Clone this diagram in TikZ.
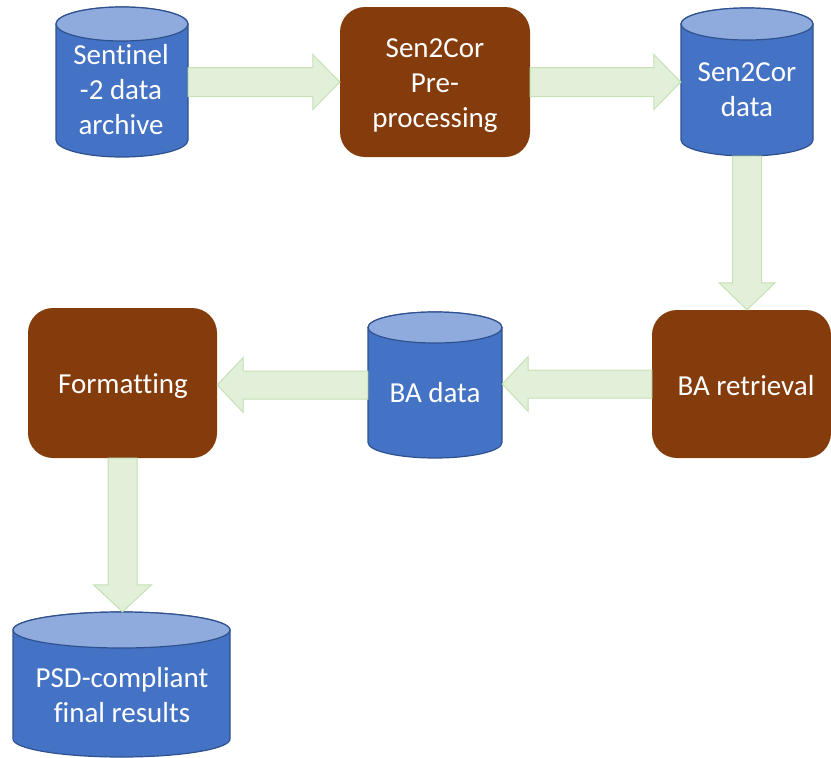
\documentclass[tikz,border=0pt]{standalone}
\usepackage{fontspec}
\setmainfont{Carlito}[Ligatures=NoCommon]
\usetikzlibrary{calc}
\definecolor{cylbody}{HTML}{4472C4}
\definecolor{cyltop}{HTML}{8FAADC}
\definecolor{cylline}{HTML}{2F528F}
\definecolor{boxbrown}{HTML}{843C0C}
\definecolor{arrfill}{HTML}{E2F0D9}
\definecolor{arrline}{HTML}{C5E0B4}
\tikzset{
  cylbodystyle/.style={fill=cylbody,draw=cylline,line width=1.2pt},
  cyltopstyle/.style={fill=cyltop,draw=cylline,line width=1.2pt},
  procbox/.style={fill=boxbrown,draw=none,rounded corners=25pt,inner sep=0pt},
  lbl/.style={text=white,font=\fontsize{29}{35}\selectfont,align=center,inner sep=0pt},
  blockarrow/.style={fill=arrfill,draw=arrline,line width=1pt,line join=miter}
}
\newcommand\dbcyl[6]{%
  \pgfmathsetmacro\cylcx{(#2+#3)/2}%
  \pgfmathsetmacro\cylrx{(#3-#2)/2}%
  \pgfmathsetmacro\cylyt{-(#4+#6)}%
  \pgfmathsetmacro\cylyb{-(#5-#6)}%
  \pgfmathsetmacro\cylcy{-(#4+#5)/2}%
  \pgfmathsetmacro\cylw{#3-#2}%
  \pgfmathsetmacro\cylh{#5-#4}%
  \filldraw[cylbodystyle] (#2,\cylyt) -- (#2,\cylyb)
     arc[start angle=180,end angle=360,x radius=\cylrx,y radius=#6]
     -- (#3,\cylyt)
     arc[start angle=0,end angle=180,x radius=\cylrx,y radius=#6] -- cycle;
  \filldraw[cyltopstyle] (\cylcx,\cylyt) ellipse[x radius=\cylrx,y radius=#6];
  \node[inner sep=0pt,minimum width=\cylw pt,minimum height=\cylh pt] (#1) at (\cylcx,\cylcy) {};
}
\begin{document}
\begin{tikzpicture}[x=1pt,y=1pt]
\useasboundingbox (0,0) rectangle (831,-758);

% data stores
\dbcyl{archive}{56}{188}{7}{157}{17}
\dbcyl{s2cdata}{681}{813}{8}{156}{16}
\dbcyl{badata}{368}{502}{312}{458}{15.5}
\dbcyl{final}{13}{230}{612}{757}{18}

% processes
\node[procbox,minimum width=190pt,minimum height=150pt] (prep) at (435,-82) {};
\node[procbox,minimum width=179pt,minimum height=148pt] (retr) at (741.5,-384) {};
\node[procbox,minimum width=189pt,minimum height=150pt] (fmt) at (122.5,-383) {};

% labels
\node[lbl] (tarchive) at (121,-90) {Sentinel\\-2 data\\archive};
\node[lbl] (tprep) at (435,-86) {Sen2Cor\\Pre-\\processing};
\node[lbl] (ts2c) at (747,-90) {Sen2Cor\\data};
\node[lbl,anchor=base] (tretr) at (746,-395) {BA retrieval};
\node[lbl,anchor=base] (tbadata) at (435,-402) {BA data};
\node[lbl,anchor=base] (tfmt) at (123,-393) {Formatting};
\node[lbl] (tfinal) at (122,-695) {PSD-compliant\\final results};

% connectors (block arrows)
\path[blockarrow] let \p1=(archive.east), \p2=(prep.west) in
  (\x1,\y1+14.5pt) -- (\x2-27pt,\y1+14.5pt) -- (\x2-27pt,\y1+27.5pt) -- (\x2,\y1)
  -- (\x2-27pt,\y1-27.5pt) -- (\x2-27pt,\y1-14.5pt) -- (\x1,\y1-14.5pt) -- cycle;
\path[blockarrow] let \p1=(prep.east), \p2=(s2cdata.west) in
  (\x1,\y1+14.5pt) -- (\x2-27pt,\y1+14.5pt) -- (\x2-27pt,\y1+27.5pt) -- (\x2,\y1)
  -- (\x2-27pt,\y1-27.5pt) -- (\x2-27pt,\y1-14.5pt) -- (\x1,\y1-14.5pt) -- cycle;
\path[blockarrow] let \p1=(s2cdata.south), \p2=(retr.north) in
  (\x1-14.5pt,\y1) -- (\x1-14.5pt,\y2+27pt) -- (\x1-28pt,\y2+27pt) -- (\x1,\y2)
  -- (\x1+28pt,\y2+27pt) -- (\x1+14.5pt,\y2+27pt) -- (\x1+14.5pt,\y1) -- cycle;
\path[blockarrow] let \p1=(retr.west), \p2=(badata.east) in
  (\x1,\y1+14pt) -- (\x2+26pt,\y1+14pt) -- (\x2+26pt,\y1+27.5pt) -- (\x2,\y1)
  -- (\x2+26pt,\y1-27.5pt) -- (\x2+26pt,\y1-14pt) -- (\x1,\y1-14pt) -- cycle;
\path[blockarrow] let \p1=(badata.west), \p2=(fmt.east) in
  (\x1,\y1+14pt) -- (\x2+26pt,\y1+14pt) -- (\x2+26pt,\y1+27.5pt) -- (\x2,\y1)
  -- (\x2+26pt,\y1-27.5pt) -- (\x2+26pt,\y1-14pt) -- (\x1,\y1-14pt) -- cycle;
\path[blockarrow] let \p1=(fmt.south), \p2=(final.north) in
  (\x1-14.5pt,\y1) -- (\x1-14.5pt,\y2+27pt) -- (\x1-29pt,\y2+27pt) -- (\x1,\y2)
  -- (\x1+29pt,\y2+27pt) -- (\x1+14.5pt,\y2+27pt) -- (\x1+14.5pt,\y1) -- cycle;
\end{tikzpicture}
\end{document}
